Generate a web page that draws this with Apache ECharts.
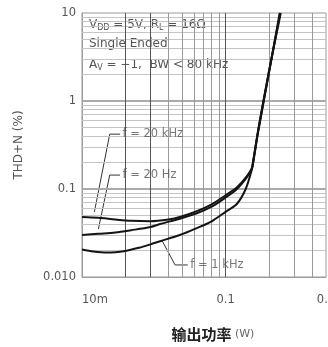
<!DOCTYPE html>
<html>
<head>
<meta charset="utf-8">
<style>
  html, body { margin: 0; padding: 0; background: #fff; }
  #chart { width: 328px; height: 347px; }
</style>
<script src="https://cdn.jsdelivr.net/npm/echarts@6/dist/echarts.min.js"></script>
</head>
<body>
<div id="chart"></div>
<script>
// THD+N versus output power, three test frequencies (log-log)
const f20kHz = [
  [0.01, 0.048], [0.013, 0.047], [0.017, 0.045], [0.022, 0.0435], [0.03, 0.043],
  [0.04, 0.045], [0.048, 0.048], [0.063, 0.056], [0.08, 0.067], [0.1, 0.085],
  [0.12, 0.105], [0.138, 0.135], [0.152, 0.172], [0.156, 0.215], [0.169, 0.48],
  [0.2, 2.15], [0.242, 10]
];
const f20Hz = [
  [0.01, 0.030], [0.013, 0.031], [0.017, 0.032], [0.022, 0.034], [0.03, 0.037],
  [0.035, 0.040], [0.048, 0.046], [0.063, 0.053], [0.08, 0.063], [0.1, 0.08],
  [0.12, 0.10], [0.138, 0.13], [0.152, 0.168], [0.156, 0.21], [0.169, 0.47],
  [0.2, 2.1], [0.24, 10]
];
const f1kHz = [
  [0.01, 0.0205], [0.012, 0.0195], [0.015, 0.019], [0.02, 0.0198], [0.025, 0.0215],
  [0.03, 0.0235], [0.035, 0.0255], [0.048, 0.030], [0.063, 0.036], [0.08, 0.043],
  [0.1, 0.055], [0.12, 0.068], [0.138, 0.10], [0.152, 0.165], [0.156, 0.205],
  [0.169, 0.46], [0.2, 2.05], [0.238, 10]
];

// leader lines from each curve to its label (data coordinates)
const lead20kHz = [[0.0122, 0.055], [0.0156, 0.42], [0.0184, 0.42]];
const lead20Hz = [[0.013, 0.035], [0.0156, 0.144], [0.0184, 0.144]];
const lead1kHz = [[0.0359, 0.0263], [0.0445, 0.0137], [0.0545, 0.0137]];
const leaderText = ['f = 20 kHz', 'f = 20 Hz', 'f = 1 kHz'];

// axis ranges and tick labels
const xMin = 0.01, xMax = 0.5;
const yMin = 0.01, yMax = 10;
const xTickLabels = { '-2': '10m', '-1': '0.1', '-0.3': '0.5' };
const yTickLabels = { '1': '10', '0': '1', '-1': '0.1', '-2': '0.010' };

// grid lines
const xGridDark = [0.02, 0.03, 0.1];
const xGridLight = [0.04, 0.05, 0.06, 0.07, 0.08, 0.09, 0.2, 0.3, 0.4];
const yGridDecade = [0.1, 1];
const yGridMinor = [
  0.02, 0.03, 0.04, 0.05, 0.06, 0.07, 0.08, 0.09,
  0.2, 0.3, 0.4, 0.5, 0.6, 0.7, 0.8, 0.9,
  2, 3, 4, 5, 6, 7, 8, 9
];

function logKey(v) {
  return String(Math.round(Math.log10(v) * 10) / 10);
}

const gridLineData = []
  .concat(yGridMinor.map(v => ({ yAxis: v, lineStyle: { color: '#c4c4c4', width: 1, type: 'solid' } })))
  .concat(yGridDecade.map(v => ({ yAxis: v, lineStyle: { color: '#aaaaaa', width: 2, type: 'solid' } })))
  .concat(xGridLight.map(v => ({ xAxis: v, lineStyle: { color: '#9a9a9a', width: 1, type: 'solid' } })))
  .concat(xGridDark.map(v => ({ xAxis: v, lineStyle: { color: '#555555', width: 1, type: 'solid' } })));

const FONT = 'DejaVu Sans';
const TEXT = '#555';
const curveStyle = { color: '#141414', width: 2 };
const leaderStyle = { color: '#333', width: 1 };
const labelFont = { fontFamily: FONT, fontSize: 11.5, color: TEXT };

function curveSeries(name, data) {
  return {
    name: name, type: 'line', data: data, smooth: 0.3,
    symbol: 'none', lineStyle: curveStyle, z: 5, silent: true
  };
}
function leaderSeries(data) {
  return {
    type: 'line', data: data, symbol: 'none', lineStyle: leaderStyle, z: 4, silent: true
  };
}
function leaderLabel(points, text) {
  const p = points[points.length - 1];
  return {
    type: 'scatter', symbolSize: 1, itemStyle: { color: 'rgba(0,0,0,0)' }, silent: true, z: 6,
    data: [{ value: p, label: Object.assign({ show: true, position: 'right', distance: 2, formatter: text }, labelFont) }]
  };
}

const rowRich = {
  t: { fontFamily: FONT, fontSize: 12, fill: TEXT },
  s: { fontFamily: FONT, fontSize: 8, fill: TEXT, padding: [6, 0, 0, 0] }
};

const chart = echarts.init(document.getElementById('chart'), null, { renderer: 'canvas' });
chart.setOption({
  animation: false,
  backgroundColor: '#fff',
  grid: {
    left: 82, right: 2, top: 13, bottom: 70, containLabel: false, outerBoundsMode: 'none',
    show: true, borderColor: '#9a9a9a', borderWidth: 1, backgroundColor: '#fff'
  },
  xAxis: {
    type: 'log', logBase: 10, min: xMin, max: xMax,
    axisLine: { show: true, lineStyle: { color: '#9a9a9a' } },
    axisTick: { show: false },
    splitLine: { show: false },
    axisLabel: {
      fontFamily: FONT, fontSize: 11.5, color: TEXT, margin: 17,
      showMinLabel: true, showMaxLabel: true, hideOverlap: false,
      alignMinLabel: 'left', alignMaxLabel: 'center',
      formatter: v => xTickLabels[logKey(v)] || ''
    },
    name: '{cn|输出功率} {w|(W)}',
    nameLocation: 'middle', nameGap: 50,
    nameTextStyle: {
      padding: [0, 0, 0, 18],
      rich: {
        cn: { fontFamily: 'Noto Sans CJK SC', fontSize: 15, fontWeight: 'bold', color: '#222' },
        w: { fontFamily: FONT, fontSize: 11, color: '#666' }
      }
    }
  },
  yAxis: {
    type: 'log', logBase: 10, min: yMin, max: yMax,
    axisLine: { show: true, lineStyle: { color: '#9a9a9a' } },
    axisTick: { show: false },
    splitLine: { show: false },
    axisLabel: {
      fontFamily: FONT, fontSize: 11.5, color: TEXT, margin: 6,
      formatter: v => yTickLabels[logKey(v)] || ''
    },
    name: 'THD+N (%)',
    nameLocation: 'middle', nameGap: 57, nameRotate: 90,
    nameTextStyle: { fontFamily: FONT, fontSize: 12, color: TEXT }
  },
  graphic: [
    { type: 'rect', shape: { x: 86, y: 15, width: 76, height: 42 }, style: { fill: '#fff' }, z: 3 },
    {
      type: 'text', left: 89, top: 19, z: 4,
      style: { text: '{t|V}{s|DD}{t| = 5V, R}{s|L}{t| = 16Ω}', rich: rowRich }
    },
    {
      type: 'text', left: 89, top: 38, z: 4,
      style: { text: 'Single Ended', fontFamily: FONT, fontSize: 12, fill: TEXT }
    },
    {
      type: 'text', left: 86, top: 56, z: 4,
      style: {
        text: '{t|A}{s|V}{t| = −1,  BW < 80 kHz}',
        backgroundColor: '#fff', padding: [2, 4, 3, 3],
        rich: rowRich
      }
    }
  ],
  series: [
    {
      type: 'line', data: [], silent: true, z: 1,
      markLine: { silent: true, symbol: 'none', label: { show: false }, animation: false, data: gridLineData }
    },
    curveSeries('f = 20 kHz', f20kHz),
    curveSeries('f = 20 Hz', f20Hz),
    curveSeries('f = 1 kHz', f1kHz),
    leaderSeries(lead20kHz),
    leaderSeries(lead20Hz),
    leaderSeries(lead1kHz),
    leaderLabel(lead20kHz, leaderText[0]),
    leaderLabel(lead20Hz, leaderText[1]),
    leaderLabel(lead1kHz, leaderText[2])
  ]
});
</script>
</body>
</html>
